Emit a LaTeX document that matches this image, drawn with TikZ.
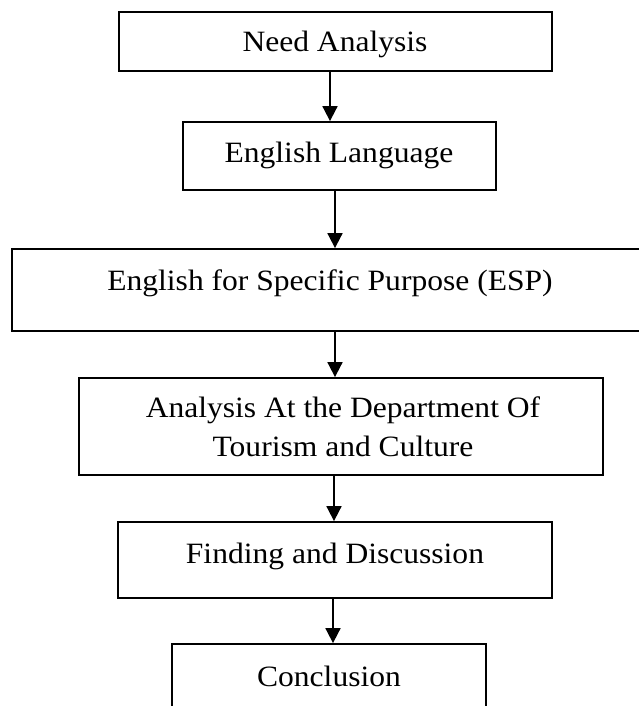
\documentclass[tikz,border=0pt]{standalone}
\usepackage{fontspec}
\setmainfont{Liberation Serif}[FakeStretch=1.07]
\usetikzlibrary{arrows.meta}
\begin{document}
\begin{tikzpicture}[x=1pt,y=-1pt,
  box/.style={draw, line width=1.8pt, rectangle, inner sep=0pt},
  txt/.style={font=\fontsize{29.5}{39}\selectfont, inner sep=0pt, anchor=base},
  arr/.style={line width=1.8pt, -{Triangle[length=15pt,width=15pt]}}]
\useasboundingbox (0,0) rectangle (639,706);
\clip (0,0) rectangle (639,706);
% boxes
\node[box, minimum width=433pt, minimum height=59pt] (n1) at (335.5,41.5) {};
\node[box, minimum width=313pt, minimum height=68pt] (n2) at (339.5,156) {};
\node[box, minimum width=638pt, minimum height=82pt] (n3) at (331,290) {};
\node[box, minimum width=524pt, minimum height=97pt] (n4) at (341,426.5) {};
\node[box, minimum width=434pt, minimum height=76pt] (n5) at (335,560) {};
\node[box, minimum width=314pt, minimum height=86pt] (n6) at (329,687) {};
% texts
\node[txt] (t1) at (335,52) {Need Analysis};
\node[txt] (t2) at (339,162.5) {English Language};
\node[txt] (t3) at (330,290) {English for Specific Purpose (ESP)};
\node[txt] (t4a) at (343,417) {Analysis At the Department Of};
\node[txt] (t4b) at (343,456) {Tourism and Culture};
\node[txt] (t5) at (335,563) {Finding and Discussion};
\node[txt] (t6) at (329,686) {Conclusion};
% arrows
\draw[arr] ([xshift=-5.5pt]n1.south) -- ([xshift=-9.5pt]n2.north);
\draw[arr] ([xshift=-4.5pt]n2.south) -- ([xshift=4pt]n3.north);
\draw[arr] ([xshift=4pt]n3.south) -- ([xshift=-6pt]n4.north);
\draw[arr] ([xshift=-7pt]n4.south) -- ([xshift=-1pt]n5.north);
\draw[arr] ([xshift=-2pt]n5.south) -- ([xshift=4pt]n6.north);
\end{tikzpicture}
\end{document}
